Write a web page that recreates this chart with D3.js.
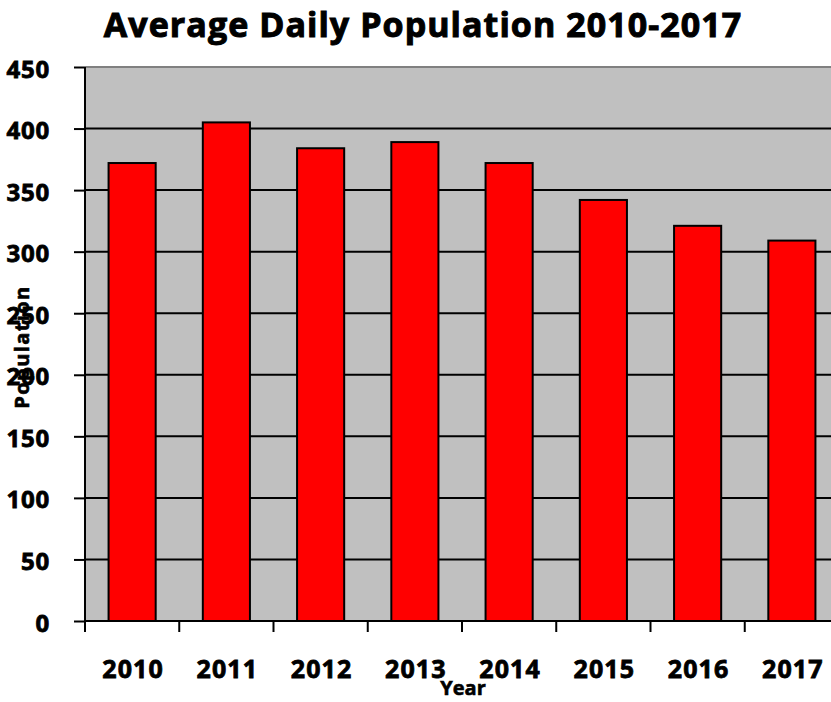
<!DOCTYPE html>
<html>
<head>
<meta charset="utf-8">
<script src="https://cdn.jsdelivr.net/npm/d3@7.9.0/dist/d3.min.js"></script>
<style>
  body { margin: 0; background: #fff; }
  svg text { font-family: "Open Sans", sans-serif; font-weight: bold; fill: #000; stroke: #000; stroke-width: 0.8px; }
</style>
</head>
<body>
<svg id="chart" width="831" height="702"></svg>
<script>
// -------------------------
// Data
// -------------------------
const years = ['2010', '2011', '2012', '2013', '2014', '2015', '2016', '2017'];
const population = [372, 405, 384, 389, 372, 342, 321, 309];
const yTicks = [0, 50, 100, 150, 200, 250, 300, 350, 400, 450];

// -------------------------
// Layout
// -------------------------
const margin = { top: 67, left: 85, bottom: 81 };
const plotW = 754;
const plotH = 702 - margin.top - margin.bottom;

const svg = d3.select('#chart');

const x = d3.scaleBand().domain(years).range([margin.left, margin.left + plotW]).paddingInner(0.5).paddingOuter(0.25);
const y = d3.scaleLinear().domain([0, 450]).range([margin.top + plotH, margin.top]);

// plot background
svg.append('rect')
  .attr('x', margin.left).attr('y', margin.top)
  .attr('width', plotW).attr('height', plotH)
  .attr('fill', '#c0c0c0');

// gridlines
svg.append('g').selectAll('line')
  .data(yTicks.filter(d => d > 0))
  .join('line')
  .attr('x1', margin.left).attr('x2', margin.left + plotW)
  .attr('y1', d => y(d)).attr('y2', d => y(d))
  .attr('stroke', d => d === 450 ? '#808080' : '#000')
  .attr('stroke-width', 2);

// bars
svg.append('g').selectAll('rect')
  .data(population)
  .join('rect')
  .attr('x', (d, i) => x(years[i]))
  .attr('y', d => y(d))
  .attr('width', x.bandwidth())
  .attr('height', d => y(0) - y(d))
  .attr('fill', '#ff0000')
  .attr('stroke', '#000')
  .attr('stroke-width', 2);

// y axis
const yAxis = svg.append('g')
  .attr('transform', `translate(${margin.left},0)`)
  .call(d3.axisLeft(y).tickValues(yTicks).tickSize(11).tickPadding(24).tickFormat(d3.format('d')));
yAxis.selectAll('line').attr('stroke', '#000').attr('stroke-width', 2);
yAxis.select('.domain').attr('stroke', '#000').attr('stroke-width', 2).attr('d', `M0,${y(450)}V${y(0)}`);
yAxis.selectAll('text')
  .style('font-size', '24px')
  .style('letter-spacing', '0.8px')
  .attr('dy', '0.42em');

// x axis
const step = x.step();
const xAxis = svg.append('g').attr('transform', `translate(0,${y(0)})`);
xAxis.append('line')
  .attr('x1', margin.left).attr('x2', margin.left + plotW)
  .attr('stroke', '#000').attr('stroke-width', 2);
xAxis.selectAll('.tk')
  .data(d3.range(years.length + 1))
  .join('line')
  .attr('class', 'tk')
  .attr('x1', i => margin.left + i * step).attr('x2', i => margin.left + i * step)
  .attr('y1', 0).attr('y2', 11)
  .attr('stroke', '#000').attr('stroke-width', 2);
xAxis.selectAll('text')
  .data(years)
  .join('text')
  .attr('x', d => x(d) + x.bandwidth() / 2 + 1)
  .attr('y', 57)
  .attr('text-anchor', 'middle')
  .style('font-size', '25px')
  .style('letter-spacing', '1.1px')
  .text(d => d);

// titles
svg.append('text')
  .attr('x', 423).attr('y', 37)
  .attr('text-anchor', 'middle')
  .style('font-size', '34px')
  .style('letter-spacing', '1.05px')
  .style('stroke-width', '1px')
  .text('Average Daily Population 2010-2017');

svg.append('text')
  .attr('x', 463).attr('y', 695)
  .attr('text-anchor', 'middle')
  .style('font-size', '20px')
  .style('stroke-width', '0.6px')
  .text('Year');

svg.append('text')
  .attr('transform', 'translate(29,347) rotate(-90)')
  .attr('text-anchor', 'middle')
  .style('font-size', '20px')
  .style('letter-spacing', '1.4px')
  .style('stroke-width', '0.6px')
  .text('Population');
</script>
</body>
</html>
